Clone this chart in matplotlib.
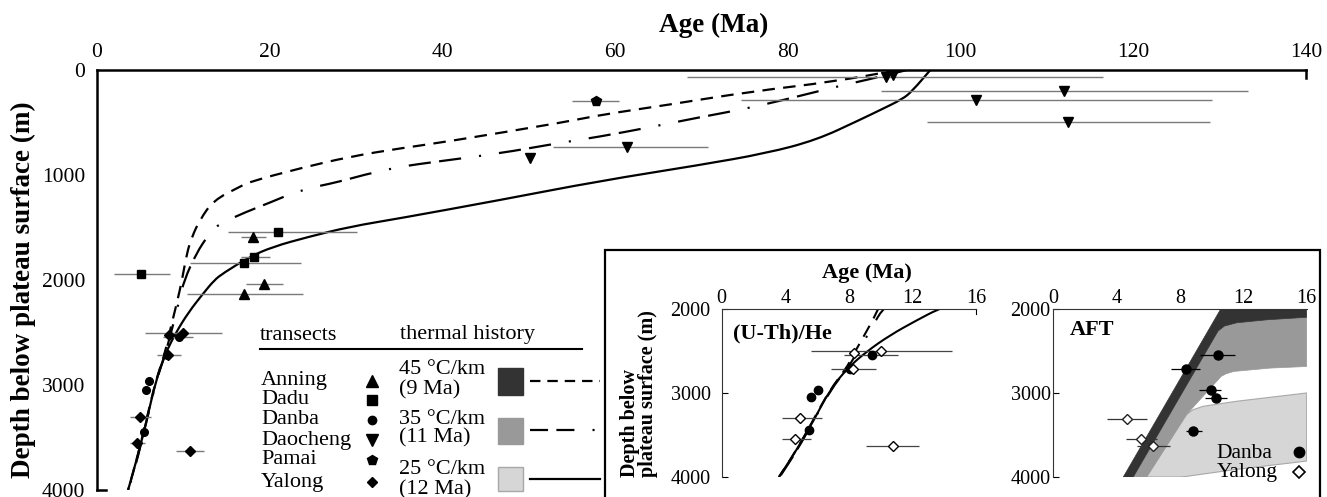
import numpy as np
import matplotlib
matplotlib.use('Agg')
import matplotlib.pyplot as plt
from matplotlib.patches import Rectangle, PathPatch
from matplotlib.lines import Line2D
from matplotlib.path import Path

plt.rcParams['font.family'] = ['Liberation Serif', 'DejaVu Serif']
plt.rcParams['lines.scale_dashes'] = False

nan = np.nan

# ---------------- model thermal histories (age Ma vs depth m) ----------------
hist45_age = [92.8, 85.3, 75.6, 66.0, 58.2, 54.6, 40.5, 35.1, 29.3, 23.5, 17.7, 16.56,
              13.5, 11.9, 11.0, 10.4, 9.85, 9.3, 8.7, 8.2, 7.85, 6.8, 5.75, 4.7, 3.6]
hist45_depth = [0, 111, 207, 333, 429, 490, 683, 746, 825, 936, 1064, 1111,
                1240, 1429, 1588, 1746, 2000, 2200, 2400, 2570, 2700, 2963, 3322, 3681, 4000]
hist35_age = [93.8, 89.1, 85.6, 79.5, 74.8, 69.8, 64.0, 58.2, 52.8, 46.7, 39.3, 35.1,
              30.8, 28.1, 23.5, 20.0, 17.3, 13.9, 12.9, 11.5, 10.1, 9.5, 8.9, 8.35,
              7.9, 6.85, 5.8, 4.75, 3.65]
hist35_depth = [0, 95, 159, 286, 374, 450, 546, 635, 705, 793, 873, 921,
                1000, 1064, 1143, 1264, 1350, 1476, 1571, 1746, 2000, 2200, 2400, 2570,
                2705, 2963, 3322, 3681, 4000]
hist25_age = [96.5, 94.4, 93.3, 90.7, 88.3, 83.3, 77.5, 69.8, 58.2, 46.7, 35.1, 29.3, 24.3,
              20.4, 17.7, 14.6, 13.6, 12.3, 10.6, 9.1, 7.9, 6.8, 5.8, 4.7, 3.6]
hist25_depth = [0, 200, 276, 381, 476, 667, 793, 905, 1057, 1238, 1412, 1492, 1593,
                1683, 1778, 1936, 2000, 2128, 2307, 2506, 2705, 2963, 3322, 3681, 4000]

# ---------------- samples: (U-Th)/He ages ----------------
anning_age = [18.1, 19.35, 17.0]
anning_depth = [1590, 2040, 2135]
anning_lo = [16.7, 17.3, 10.4]
anning_hi = [19.6, 21.5, 23.8]

dadu_age = [20.95, 18.2, 17.05, 5.05]
dadu_depth = [1545, 1785, 1840, 1945]
dadu_lo = [15.2, 16.7, 10.8, 2.0]
dadu_hi = [30.1, 20.0, 23.6, 8.4]

danba_age = [9.45, 8.05, 6.05, 5.65, 5.5]
danba_depth = [2545, 2715, 2965, 3050, 3445]
danba_lo = [7.7, nan, nan, nan, nan]
danba_hi = [11.1, nan, nan, nan, nan]

daocheng_age = [91.4, 92.2, 112.0, 101.8, 112.4, 61.4, 50.1]
daocheng_depth = [70, 48, 200, 286, 492, 730, 841]
daocheng_lo = [68.3, nan, 90.8, 74.6, 96.1, 52.8, nan]
daocheng_hi = [116.5, nan, 133.3, 129.1, 128.9, 70.7, nan]

pamai_age = [57.8]
pamai_depth = [295]
pamai_lo = [55.0]
pamai_hi = [60.5]

yalong_age = [10.0, 8.3, 8.25, 4.95, 4.6, 10.75]
yalong_depth = [2500, 2520, 2715, 3300, 3550, 3630]
yalong_lo = [5.6, nan, 6.9, 3.8, 3.8, 9.1]
yalong_hi = [14.5, nan, 9.7, 6.3, 5.6, 12.4]

# ---------------- AFT samples ----------------
aft_danba_age = [10.4, 8.35, 9.93, 10.3, 8.8]
aft_danba_depth = [2550, 2710, 2965, 3055, 3455]
aft_danba_lo = [9.26, 7.41, 9.21, 9.57, 8.41]
aft_danba_hi = [11.46, 9.26, 10.62, 10.98, 9.36]
aft_yalong_age = [4.63, 5.51, 6.27]
aft_yalong_depth = [3303, 3552, 3632]
aft_yalong_lo = [3.37, 4.57, 5.26]
aft_yalong_hi = [5.89, 6.52, 7.36]

# ---------------- AFT predicted zones ----------------
zone45_age = [4.42, 10.56, 16.0, 16.0, 13.5, 11.6, 10.8, 10.4, 5.05]
zone45_depth = [4000, 2000, 2000, 2095, 2125, 2160, 2200, 2260, 4000]
zone35_age = [5.05, 10.4, 10.8, 11.6, 13.5, 16.0, 16.0, 13.7, 11.4, 10.9, 10.6, 8.41, 5.89]
zone35_depth = [4000, 2260, 2200, 2160, 2125, 2095, 2682, 2701, 2741, 2770, 2800, 3255, 4000]
zone25_age = [5.89, 8.41, 8.8, 9.46, 11.57, 16.0, 16.0, 11.57, 8.31, 8.0]
zone25_depth = [4000, 3255, 3200, 3157, 3097, 2998, 3810, 3909, 3995, 4000]

ticks_main_x = [0, 20, 40, 60, 80, 100, 120, 140]
ticks_main_y = [0, 1000, 2000, 3000, 4000]
ticks_in_x = [0, 4, 8, 12, 16]
ticks_in_y = [2000, 3000, 4000]

ls45 = (0, (9, 6))
ls35 = (0, (16, 6, 16, 13, 1.5, 13))
ls25 = '-'

W, H = 1327, 497
fig = plt.figure(figsize=(W / 100, H / 100), dpi=100)


def fx(px):
    return px / W


def fy(py):
    return 1 - py / H


def smooth_line(a, xs, ys, **kw):
    """Smooth path through the read points (quadratic Bezier, points as controls)."""
    pts = np.column_stack([xs, ys]).astype(float)
    mids = (pts[:-1] + pts[1:]) / 2
    verts = [pts[0], mids[0]]
    codes = [Path.MOVETO, Path.LINETO]
    for i in range(1, len(pts) - 1):
        verts += [pts[i], mids[i]]
        codes += [Path.CURVE3, Path.CURVE3]
    verts.append(pts[-1])
    codes.append(Path.LINETO)
    a.add_patch(PathPatch(Path(verts, codes), fill=False, capstyle='butt', **kw))


# ================= main panel =================
ax = fig.add_axes([fx(97), fy(490), fx(1306) - fx(97), fy(70) - fy(490)])
ax.set_xlim(0, 140)
ax.set_ylim(4000, 0)
ax.xaxis.tick_top()
ax.set_xticks(ticks_main_x)
ax.set_yticks(ticks_main_y)
ax.tick_params(axis='x', length=0, pad=5.5, labelsize=15.5)
ax.tick_params(axis='y', length=0, pad=8.5, labelsize=15.5)
for s in ['top', 'left', 'right', 'bottom']:
    ax.spines[s].set_linewidth(1.8)
ax.spines['right'].set_bounds(0, 75)
ax.spines['bottom'].set_bounds(0, 1.05)

smooth_line(ax, hist45_age, hist45_depth, ec='k', lw=1.6, ls=ls45)
smooth_line(ax, hist35_age, hist35_depth, ec='k', lw=1.6, ls=ls35)
smooth_line(ax, hist25_age, hist25_depth, ec='k', lw=1.6, ls=ls25)

groups = [
    (anning_age, anning_depth, anning_lo, anning_hi, '^', 7.5),
    (dadu_age, dadu_depth, dadu_lo, dadu_hi, 's', 6.0),
    (danba_age, danba_depth, danba_lo, danba_hi, 'o', 5.5),
    (daocheng_age, daocheng_depth, daocheng_lo, daocheng_hi, 'v', 7.5),
    (pamai_age, pamai_depth, pamai_lo, pamai_hi, 'p', 7.0),
    (yalong_age, yalong_depth, yalong_lo, yalong_hi, 'D', 5.0),
]
for a, d, lo, hi, m, ms in groups:
    ax.hlines(d, lo, hi, color='#7a7a7a', lw=1.0, zorder=2)
    ax.plot(a, d, ls='none', marker=m, ms=ms, color='k', zorder=3)

fig.text(fx(714), fy(25), 'Age (Ma)', ha='center', va='center', fontsize=19.5, fontweight='bold')
fig.text(fx(23), fy(290), 'Depth below plateau surface (m)', ha='center', va='center',
         rotation=90, fontsize=19.5, fontweight='bold')


# ---------------- legend (drawn in figure pixel coordinates) ----------------
def fline(xs, ys, **kw):
    ax.add_line(Line2D([fx(x) for x in xs], [fy(y) for y in ys],
                       transform=fig.transFigure, clip_on=False, **kw))


def ftext(x, y, s, **kw):
    fig.text(fx(x), fy(y), s, ha='left', va='center', **kw)


ftext(260, 335, 'transects', fontsize=16)
ftext(400, 335, 'thermal history', fontsize=16)
fline([260, 582], [349, 349], color='k', lw=1.5)

names = ['Anning', 'Dadu', 'Danba', 'Daocheng', 'Pamai', 'Yalong']
name_y = [381, 400, 420, 440, 460, 482]
for (a, d, lo, hi, m, ms), nm, yy in zip(groups, names, name_y):
    ftext(261, yy, nm, fontsize=16)
    ax.plot([fx(372)], [fy(yy)], marker=m, ms=ms + 0.5, color='k', ls='none',
            transform=fig.transFigure, clip_on=False)

th_labels = ['45 °C/km', '(9 Ma)', '35 °C/km', '(11 Ma)', '25 °C/km', '(12 Ma)']
th_y = [369, 390, 419, 438, 470, 490]
for s, yy in zip(th_labels, th_y):
    ftext(399, yy, s, fontsize=16)

box_fc = ['#333333', '#999999', '#d6d6d6']
box_ec = ['#333333', '#999999', '#a8a8a8']
box_y = [(368, 395), (418, 444), (467, 491)]
for fc, ec, (y0, y1) in zip(box_fc, box_ec, box_y):
    ax.add_patch(Rectangle((fx(498), fy(y1)), fx(523) - fx(498), fy(y0) - fy(y1),
                           transform=fig.transFigure, fc=fc, ec=ec, lw=1, clip_on=False))
fline([530, 600], [381, 381], color='k', lw=1.6, ls=(0, (7.5, 5)))
fline([530, 604], [430, 430], color='k', lw=1.6, ls=(0, (13, 6, 13, 13, 1.5, 13)))
fline([530, 600], [479, 479], color='k', lw=1.6)

# inset frame
ax.add_patch(Rectangle((fx(605), fy(505)), fx(1320) - fx(605), fy(250) - fy(505),
                       transform=fig.transFigure, fc='white', ec='k', lw=1.6,
                       clip_on=False, zorder=20))


# ================= insets =================
def setup_inset(a, ypad):
    a.set_xlim(0, 16)
    a.set_ylim(4000, 2000)
    a.xaxis.tick_top()
    a.set_xticks(ticks_in_x)
    a.set_yticks(ticks_in_y)
    a.tick_params(axis='x', length=0, pad=1, labelsize=14.5)
    a.tick_params(axis='y', direction='in', length=4, width=0.8, pad=ypad, labelsize=14.5)
    a.spines['bottom'].set_visible(False)
    a.spines['right'].set_visible(False)
    for s in ['top', 'left']:
        a.spines[s].set_linewidth(0.8)
        a.spines[s].set_color('#333333')
    a.patch.set_alpha(0)


ax1 = fig.add_axes([fx(721.7), fy(477), fx(976) - fx(721.7), fy(309.3) - fy(477)])
setup_inset(ax1, 8)
ax1.spines['right'].set_visible(True)
ax1.spines['right'].set_linewidth(0.8)
ax1.spines['right'].set_bounds(2000, 2060)
smooth_line(ax1, hist45_age, hist45_depth, ec='k', lw=1.5, ls=ls45)
smooth_line(ax1, hist35_age, hist35_depth, ec='k', lw=1.5, ls=ls35)
smooth_line(ax1, hist25_age, hist25_depth, ec='k', lw=1.5, ls=ls25)
ax1.hlines(danba_depth, danba_lo, danba_hi, color='#444444', lw=0.9, zorder=2)
ax1.hlines(yalong_depth, yalong_lo, yalong_hi, color='#444444', lw=0.9, zorder=2)
ax1.plot(danba_age, danba_depth, ls='none', marker='o', ms=6, color='k', zorder=3)
ax1.plot(yalong_age, yalong_depth, ls='none', marker='D', ms=5.5, mfc='white',
         mec='k', mew=1.0, zorder=3)
fig.text(fx(733), fy(333), '(U-Th)/He', ha='left', va='center', fontsize=16, fontweight='bold')
fig.text(fx(866.7), fy(273), 'Age (Ma)', ha='center', va='center', fontsize=16, fontweight='bold')
fig.text(fx(639), fy(477), 'Depth below\nplateau surface (m)', ha='center', va='bottom',
         rotation=90, multialignment='left', fontsize=14.5, fontweight='bold', linespacing=0.85)

ax2 = fig.add_axes([fx(1053.3), fy(477), fx(1306.7) - fx(1053.3), fy(309.3) - fy(477)])
setup_inset(ax2, 2)
ax2.fill(zone25_age, zone25_depth, fc='#d6d6d6', ec='#a8a8a8', lw=0.8, zorder=1)
ax2.fill(zone35_age, zone35_depth, fc='#999999', ec='#999999', lw=0.5, zorder=1.1)
ax2.fill(zone45_age, zone45_depth, fc='#333333', ec='#333333', lw=0.5, zorder=1.2)
ax2.hlines(aft_danba_depth, aft_danba_lo, aft_danba_hi, color='k', lw=0.9, zorder=2)
ax2.hlines(aft_yalong_depth, aft_yalong_lo, aft_yalong_hi, color='#333333', lw=0.9, zorder=2)
ax2.plot(aft_danba_age, aft_danba_depth, ls='none', marker='o', ms=6.5, color='k', zorder=3)
ax2.plot(aft_yalong_age, aft_yalong_depth, ls='none', marker='D', ms=5.5, mfc='white',
         mec='#222222', mew=1.0, zorder=3)
fig.text(fx(1070), fy(330), 'AFT', ha='left', va='center', fontsize=16, fontweight='bold')
fig.text(fx(1216.7), fy(453), 'Danba', ha='left', va='center', fontsize=15.5)
fig.text(fx(1216.7), fy(473), 'Yalong', ha='left', va='center', fontsize=15.5)
ax2.plot([fx(1299)], [fy(452)], marker='o', ms=7.5, color='k', ls='none',
         transform=fig.transFigure, clip_on=False, zorder=5)
ax2.plot([fx(1299)], [fy(472)], marker='D', ms=6.5, mfc='white', mec='k', mew=1.2, ls='none',
         transform=fig.transFigure, clip_on=False, zorder=5)

fig.savefig('out.png', dpi=100)
